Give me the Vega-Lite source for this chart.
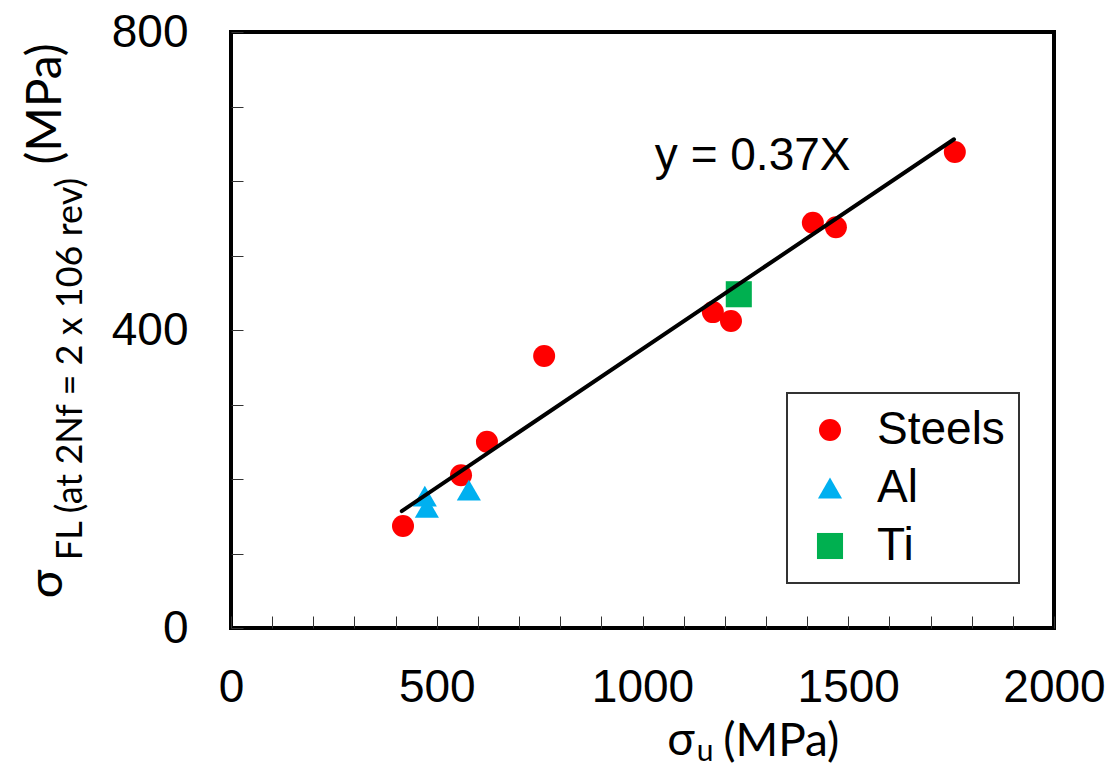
{
  "$schema": "https://vega.github.io/schema/vega-lite/v6.json",
  "autosize": "none",
  "width": 823,
  "height": 596,
  "padding": {"left": 231, "top": 32, "right": 61, "bottom": 140},
  "background": "white",
  "config": {
    "view": {"stroke": "black", "strokeWidth": 4},
    "axis": {
      "grid": false,
      "domain": false,
      "tickColor": "#333333",
      "tickWidth": 1,
      "tickSize": -12,
      "labelFont": "Liberation Sans",
      "labelFontSize": 46,
      "labelColor": "black",
      "title": null
    },
    "legend": {
      "orient": "none",
      "legendX": 556,
      "legendY": 361,
      "strokeColor": "#333333",
      "strokeWidth": 2,
      "fillColor": "white",
      "padding": 14,
      "symbolOffset": 6,
      "symbolSize": 600,
      "labelFont": "Liberation Sans",
      "labelFontSize": 46,
      "labelColor": "black",
      "labelOffset": 24,
      "rowPadding": 12,
      "title": null
    }
  },
  "datasets": {
    "points": [
      {"material": "Steels", "sigma_u": 418, "sigma_fl": 137},
      {"material": "Steels", "sigma_u": 559, "sigma_fl": 205},
      {"material": "Steels", "sigma_u": 622, "sigma_fl": 250},
      {"material": "Steels", "sigma_u": 761, "sigma_fl": 365},
      {"material": "Steels", "sigma_u": 1171, "sigma_fl": 424},
      {"material": "Steels", "sigma_u": 1215, "sigma_fl": 412},
      {"material": "Steels", "sigma_u": 1414, "sigma_fl": 544},
      {"material": "Steels", "sigma_u": 1470, "sigma_fl": 538},
      {"material": "Steels", "sigma_u": 1759, "sigma_fl": 639},
      {"material": "Al", "sigma_u": 471, "sigma_fl": 177},
      {"material": "Al", "sigma_u": 476, "sigma_fl": 162},
      {"material": "Al", "sigma_u": 578, "sigma_fl": 185},
      {"material": "Ti", "sigma_u": 1234, "sigma_fl": 448}
    ],
    "fit": [
      {"sigma_u": 415, "sigma_fl": 157},
      {"sigma_u": 1757, "sigma_fl": 656}
    ]
  },
  "layer": [
    {
      "data": {"name": "points"},
      "mark": {"type": "point", "filled": true, "opacity": 1},
      "encoding": {
        "x": {
          "field": "sigma_u", "type": "quantitative",
          "scale": {"domain": [0, 2000], "nice": false, "zero": false},
          "axis": {
            "title": null,
            "values": [0,100,200,300,400,500,600,700,800,900,1000,1100,1200,1300,1400,1500,1600,1700,1800,1900,2000],
            "labelExpr": "datum.value % 500 === 0 ? datum.label : ''",
            "labelPadding": 49,
            "labelFlush": false,
            "labelOverlap": false,
            "format": "d"
          }
        },
        "y": {
          "field": "sigma_fl", "type": "quantitative",
          "scale": {"domain": [0, 800], "nice": false, "zero": false},
          "axis": {
            "title": null,
            "values": [0,100,200,300,400,500,600,700,800],
            "labelExpr": "datum.value % 400 === 0 ? datum.label : ''",
            "labelPadding": 55,
            "labelFlush": false,
            "labelOverlap": false,
            "format": "d"
          }
        },
        "color": {
          "field": "material", "type": "nominal",
          "scale": {"domain": ["Steels", "Al", "Ti"], "range": ["#FF0000", "#00B0F0", "#00B050"]},
          "legend": {"title": null, "labelExpr": "datum.label + '\u00a0'"}
        },
        "shape": {
          "field": "material", "type": "nominal",
          "scale": {"domain": ["Steels", "Al", "Ti"], "range": ["circle", "triangle-up", "square"]},
          "legend": {"title": null, "labelExpr": "datum.label + '\u00a0'"}
        },
        "size": {
          "field": "material", "type": "nominal",
          "scale": {"domain": ["Steels", "Al", "Ti"], "range": [484, 680, 470]},
          "legend": null
        }
      }
    },
    {
      "data": {"name": "fit"},
      "mark": {"type": "line", "color": "black", "strokeWidth": 4, "strokeCap": "round"},
      "encoding": {
        "x": {"field": "sigma_u", "type": "quantitative"},
        "y": {"field": "sigma_fl", "type": "quantitative"}
      }
    },
    {
      "data": {"values": [{}]},
      "mark": {"type": "text", "font": "Liberation Sans", "fontSize": 46, "align": "left", "baseline": "alphabetic", "color": "black"},
      "encoding": {
        "x": {"datum": 1030, "type": "quantitative"},
        "y": {"datum": 615, "type": "quantitative"},
        "text": {"value": "y = 0.37X"}
      }
    },
    {
      "data": {"values": [{}]},
      "mark": {"type": "text", "font": "Lato", "fontSize": 46, "align": "left", "baseline": "alphabetic", "color": "black"},
      "encoding": {
        "x": {"datum": 1060, "type": "quantitative"},
        "y": {"datum": -170, "type": "quantitative"},
        "text": {"value": "σ"}
      }
    },
    {
      "data": {"values": [{}]},
      "mark": {"type": "text", "font": "Lato", "fontSize": 30, "align": "left", "baseline": "alphabetic", "color": "black"},
      "encoding": {
        "x": {"datum": 1132, "type": "quantitative"},
        "y": {"datum": -178, "type": "quantitative"},
        "text": {"value": "u"}
      }
    },
    {
      "data": {"values": [{}]},
      "mark": {"type": "text", "font": "Lato", "fontSize": 46, "align": "left", "baseline": "alphabetic", "color": "black"},
      "encoding": {
        "x": {"datum": 1196, "type": "quantitative"},
        "y": {"datum": -172, "type": "quantitative"},
        "text": {"value": "(MPa)"}
      }
    },
    {
      "data": {"values": [{}]},
      "mark": {"type": "text", "font": "Lato", "fontSize": 48, "align": "left", "baseline": "alphabetic", "angle": 270, "color": "black"},
      "encoding": {
        "x": {"datum": -410, "type": "quantitative"},
        "y": {"datum": 40, "type": "quantitative"},
        "text": {"value": "σ"}
      }
    },
    {
      "data": {"values": [{}]},
      "mark": {"type": "text", "font": "Lato", "fontSize": 36, "align": "left", "baseline": "alphabetic", "angle": 270, "color": "black"},
      "encoding": {
        "x": {"datum": -362, "type": "quantitative"},
        "y": {"datum": 91, "type": "quantitative"},
        "text": {"value": "FL (at 2Nf = 2 x 106 rev)"}
      }
    },
    {
      "data": {"values": [{}]},
      "mark": {"type": "text", "font": "Lato", "fontSize": 48, "align": "left", "baseline": "alphabetic", "angle": 270, "color": "black"},
      "encoding": {
        "x": {"datum": -412, "type": "quantitative"},
        "y": {"datum": 622, "type": "quantitative"},
        "text": {"value": "(MPa)"}
      }
    }
  ]
}
